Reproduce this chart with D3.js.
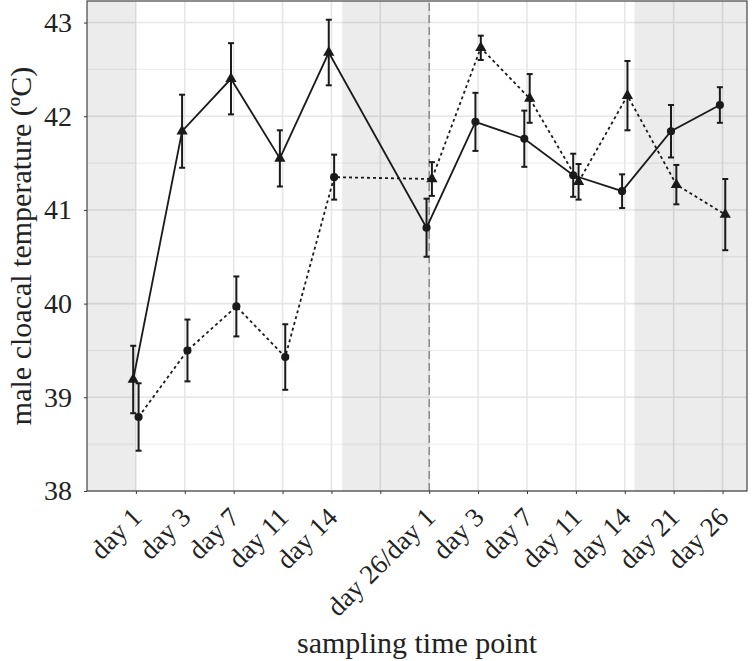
<!DOCTYPE html>
<html>
<head>
<meta charset="utf-8">
<script src="https://cdn.jsdelivr.net/npm/d3@7"></script>
<style>
  body { margin: 0; background: #fff; }
  text { font-family: "Liberation Serif", "DejaVu Serif", serif; fill: #222; }
</style>
</head>
<body>
<script>
// tick labels, one per slot (slot 5 is an empty gap)
const tickLabels = ["day 1", "day 3", "day 7", "day 11", "day 14", "",
  "day 26/day 1", "day 3", "day 7", "day 11", "day 14", "day 21", "day 26"];

// slot index of each sampled point
const slots = [0, 1, 2, 3, 4, 6, 7, 8, 9, 10, 11, 12];

// solid series: triangles before the switch, circles after
const solidMean = [39.19, 41.84, 42.40, 41.55, 42.68, 40.81, 41.94, 41.76, 41.37, 41.20, 41.84, 42.12];
const solidErr  = [0.36, 0.39, 0.38, 0.30, 0.35, 0.31, 0.31, 0.30, 0.23, 0.18, 0.28, 0.19];

// dotted series: circles before the switch, triangles after
const dottedMean = [38.79, 39.50, 39.97, 39.43, 41.35, 41.33, 42.73, 42.19, 41.30, 42.22, 41.27, 40.95];
const dottedErr  = [0.36, 0.33, 0.32, 0.35, 0.24, 0.18, 0.13, 0.26, 0.19, 0.37, 0.21, 0.38];

// shaded periods, in slot units
const shades = [[-1, 0], [4.22, 6], [10.2, 12.5]];

const yTicks = [38, 39, 40, 41, 42, 43];

const W = 752, H = 661;
const margin = { left: 87, right: 5, top: 1, bottom: 170 };

const svg = d3.select("body").append("svg")
    .attr("width", W).attr("height", H);

const x = d3.scaleLinear().domain([-1, 12.5]).range([margin.left, W - margin.right]);
const y = d3.scaleLinear().domain([38, 43.23]).range([H - margin.bottom, margin.top]);

const x0 = x.range()[0], x1 = x.range()[1];
const y0 = y.range()[0], y1 = y.range()[1];

// grid
const grid = svg.append("g");
grid.selectAll("line.minor")
    .data(d3.range(38.5, 43.2, 1))
    .enter().append("line")
    .attr("x1", x0).attr("x2", x1)
    .attr("y1", d => y(d)).attr("y2", d => y(d))
    .style("stroke", "#ebebeb").style("stroke-width", 1);
grid.selectAll("line.hmaj")
    .data(yTicks)
    .enter().append("line")
    .attr("x1", x0).attr("x2", x1)
    .attr("y1", d => y(d)).attr("y2", d => y(d))
    .style("stroke", "#e6e6e6").style("stroke-width", 1.6);
grid.selectAll("line.vmaj")
    .data(d3.range(tickLabels.length))
    .enter().append("line")
    .attr("x1", d => x(d)).attr("x2", d => x(d))
    .attr("y1", y0).attr("y2", y1)
    .style("stroke", "#e6e6e6").style("stroke-width", 1.6);

// shaded periods, drawn over the grid
svg.append("g").selectAll("rect")
    .data(shades)
    .enter().append("rect")
    .attr("x", d => x(d[0]))
    .attr("width", d => x(d[1]) - x(d[0]))
    .attr("y", y1).attr("height", y0 - y1)
    .style("fill", "#000").style("fill-opacity", 0.075);

// vertical dashed separator
svg.append("line")
    .attr("x1", x(6)).attr("x2", x(6))
    .attr("y1", y0).attr("y2", y1)
    .style("stroke", "#8a8a8a").style("stroke-width", 1.5)
    .style("stroke-dasharray", "8,4");

// axes
const yAxis = svg.append("g")
    .attr("transform", `translate(${x0},0)`)
    .call(d3.axisLeft(y).tickValues(yTicks).tickFormat(d3.format("d")).tickSize(3).tickPadding(12));
yAxis.select(".domain").remove();
yAxis.selectAll("line").style("stroke", "#333");
yAxis.selectAll("text").style("font-size", "28px").style("font-family", "Liberation Serif").style("fill", "#222");

const xAxis = svg.append("g")
    .attr("transform", `translate(0,${y0})`)
    .call(d3.axisBottom(x).tickValues(d3.range(tickLabels.length)).tickFormat(i => tickLabels[i]).tickSize(3));
xAxis.select(".domain").remove();
xAxis.selectAll("line").style("stroke", "#333");
xAxis.selectAll("text")
    .style("font-size", "27px").style("font-family", "Liberation Serif").style("fill", "#222")
    .attr("text-anchor", "end")
    .attr("dy", null).attr("y", null)
    .attr("transform", "translate(7,28) rotate(-45)");

// panel border
svg.append("rect")
    .attr("x", x0).attr("y", y1)
    .attr("width", x1 - x0).attr("height", y0 - y1)
    .style("fill", "none").style("stroke", "#444").style("stroke-width", 1.2);

// series
const DODGE = 0.055;
const makeSeries = (mean, err, side) => slots.map((s, i) => ({
    slot: s, pos: s + side * DODGE, v: mean[i], e: err[i]
}));
const solid = makeSeries(solidMean, solidErr, -1);
const dotted = makeSeries(dottedMean, dottedErr, 1);

const line = d3.line().x(d => x(d.pos)).y(d => y(d.v));

svg.append("path").datum(dotted).attr("d", line)
    .style("fill", "none").style("stroke", "#1a1a1a").style("stroke-width", 1.8)
    .style("stroke-dasharray", "3,3");
svg.append("path").datum(solid).attr("d", line)
    .style("fill", "none").style("stroke", "#1a1a1a").style("stroke-width", 1.8);

const drawErr = (data) => {
    const g = svg.append("g").style("stroke", "#1a1a1a").style("stroke-width", 2);
    data.forEach(d => {
        const cx = x(d.pos);
        g.append("line").attr("x1", cx).attr("x2", cx).attr("y1", y(d.v - d.e)).attr("y2", y(d.v + d.e));
        g.append("line").attr("x1", cx - 3).attr("x2", cx + 3).attr("y1", y(d.v - d.e)).attr("y2", y(d.v - d.e));
        g.append("line").attr("x1", cx - 3).attr("x2", cx + 3).attr("y1", y(d.v + d.e)).attr("y2", y(d.v + d.e));
    });
};
drawErr(solid);
drawErr(dotted);

const tri = d3.symbol().type(d3.symbolTriangle).size(55);
const circ = d3.symbol().type(d3.symbolCircle).size(52);
const drawPoints = (data, triBefore) => {
    svg.append("g").selectAll("path")
        .data(data)
        .enter().append("path")
        .attr("transform", d => `translate(${x(d.pos)},${y(d.v)})`)
        .attr("d", d => ((d.slot < 6) === triBefore) ? tri() : circ())
        .style("fill", "#1a1a1a");
};
drawPoints(solid, true);
drawPoints(dotted, false);

// axis titles
svg.append("text")
    .attr("x", (x0 + x1) / 2).attr("y", 653)
    .attr("text-anchor", "middle")
    .style("font-size", "30px")
    .text("sampling time point");

svg.append("text")
    .attr("transform", `translate(31,${(y0 + y1) / 2}) rotate(-90)`)
    .attr("text-anchor", "middle")
    .style("font-size", "30px")
    .text("male cloacal temperature (ºC)");
</script>
</body>
</html>
